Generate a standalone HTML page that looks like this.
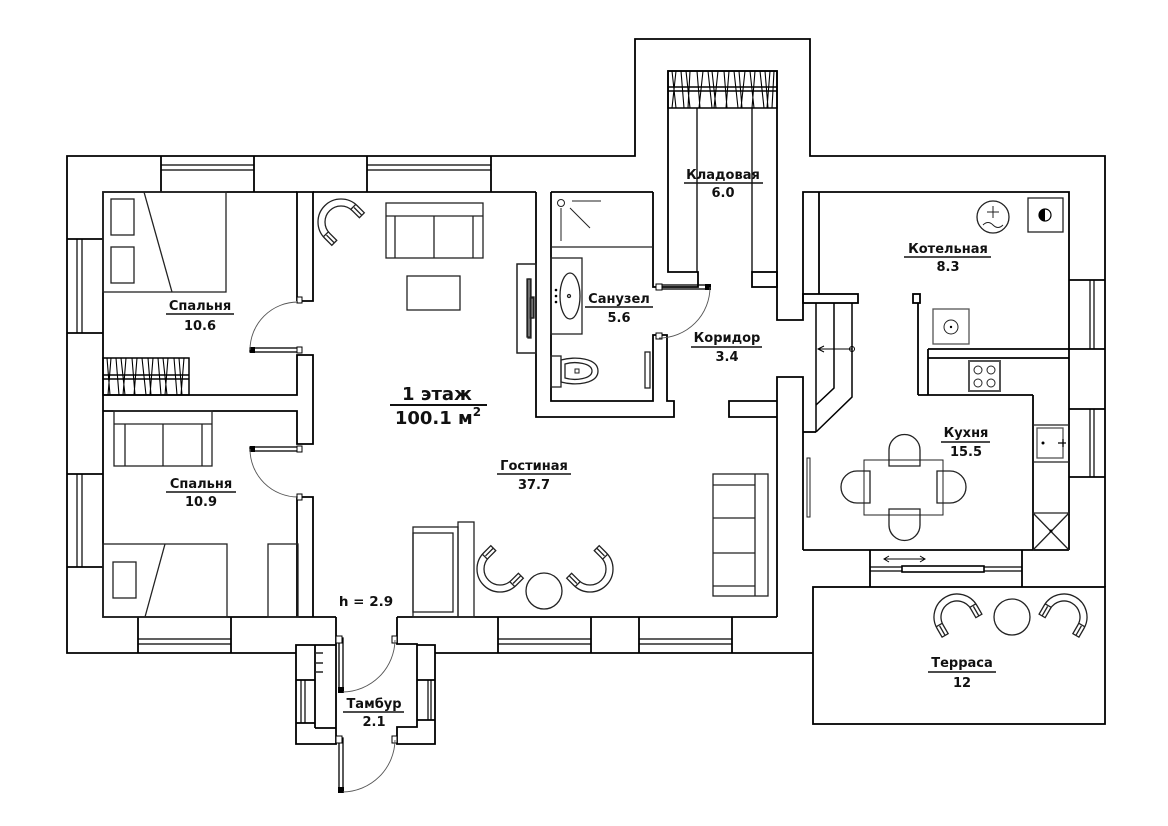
<!DOCTYPE html>
<html><head><meta charset="utf-8"><style>
html,body{margin:0;padding:0;background:#fff;}
svg{display:block;}
text{font-family:"DejaVu Sans","Liberation Sans",sans-serif;font-weight:bold;font-size:13px;fill:#111;text-anchor:middle;}
</style></head><body>
<svg width="1168" height="826" viewBox="0 0 1168 826" xmlns="http://www.w3.org/2000/svg">
<rect width="1168" height="826" fill="#fff"/>
<defs>
<g id="chair">
<path d="M10,-23 L0,-23 A23,23 0 0 0 0,23 L10,23 L10,16 L0,16 A16,16 0 0 1 0,-16 L10,-16 Z"/>
<path d="M-2,-16 L-2,-23 M-2,16 L-2,23 M10,-19.5 L-1,-19.5 M10,19.5 L-1,19.5"/>
</g>
</defs>

<!-- WALLS -->
<g fill="none" stroke="#000" stroke-width="1.8" stroke-linejoin="miter">
<polyline points="296,653 67,653 67,156 635,156 635,39 810,39 810,156 1105,156 1105,587"/>
<line x1="435" y1="653" x2="813" y2="653"/>
<rect x="813" y="587" width="292" height="137"/>
<polyline points="297,192 103,192 103,617 336,617"/>
<polyline points="297,301 297,192 313,192 313,301 297,301"/>
<polyline points="103,395 297,395 297,355 313,355 313,444 297,444 297,411 103,411"/>
<polyline points="297,617 297,497 313,497 313,617"/>
<line x1="313" y1="192" x2="536" y2="192"/>
<polyline points="551,192 551,401 653,401 653,335 667,335 667,401 674,401 674,417 536,417 536,192"/>
<line x1="551" y1="192" x2="653" y2="192"/>
<polyline points="653,192 653,287 698,287 698,272 668,272 668,71 777,71 777,320 803,320 803,192 1069,192 1069,550"/>
<rect x="752" y="272" width="25" height="15"/>
<line x1="819" y1="192" x2="819" y2="294"/>
<rect x="803" y="294" width="55" height="9"/>
<polyline points="777,617 777,377 803,377 803,550"/>
<polyline points="777,401 729,401 729,417 777,417"/>
<line x1="803" y1="432" x2="816" y2="432"/>
<line x1="803" y1="550" x2="1069" y2="550"/>
<line x1="870" y1="550" x2="870" y2="587"/>
<line x1="1022" y1="550" x2="1022" y2="587"/>
<line x1="397" y1="617" x2="777" y2="617"/>
<rect x="913" y="294" width="7" height="9"/>
<line x1="918" y1="303" x2="918" y2="395"/>
<line x1="928" y1="349" x2="928" y2="395"/>
<line x1="928" y1="349" x2="1105" y2="349"/>
<line x1="928" y1="358" x2="1069" y2="358"/>
<line x1="918" y1="395" x2="1033" y2="395"/>
<line x1="1033" y1="395" x2="1033" y2="550"/>
<line x1="1069" y1="280" x2="1105" y2="280"/>
<line x1="1069" y1="409" x2="1105" y2="409"/>
<line x1="1069" y1="477" x2="1105" y2="477"/>
<line x1="161" y1="156" x2="161" y2="192"/><line x1="254" y1="156" x2="254" y2="192"/>
<line x1="367" y1="156" x2="367" y2="192"/><line x1="491" y1="156" x2="491" y2="192"/>
<line x1="67" y1="239" x2="103" y2="239"/><line x1="67" y1="333" x2="103" y2="333"/>
<line x1="67" y1="474" x2="103" y2="474"/><line x1="67" y1="567" x2="103" y2="567"/>
<line x1="138" y1="617" x2="138" y2="653"/><line x1="231" y1="617" x2="231" y2="653"/>
<line x1="498" y1="617" x2="498" y2="653"/><line x1="591" y1="617" x2="591" y2="653"/>
<line x1="639" y1="617" x2="639" y2="653"/><line x1="732" y1="617" x2="732" y2="653"/>
<polyline points="336,617 336,744 296,744 296,645 336,645"/>
<line x1="315" y1="645" x2="315" y2="728"/>
<line x1="296" y1="680" x2="315" y2="680"/>
<line x1="296" y1="723" x2="315" y2="723"/>
<line x1="315" y1="728" x2="336" y2="728"/>
<polyline points="397,617 397,644 417,644 417,727 397,727 397,744 435,744 435,645 417,645"/>
<line x1="417" y1="680" x2="435" y2="680"/>
<line x1="417" y1="720" x2="435" y2="720"/>
</g>

<!-- WINDOW GLASS LINES -->
<g stroke="#000" stroke-width="1.2" fill="none">
<path d="M161,165H254M161,170H254M367,165H491M367,170H491"/>
<path d="M77,239V333M82,239V333M77,474V567M82,474V567"/>
<path d="M138,639H231M138,644H231M498,639H591M498,644H591M639,639H732M639,644H732"/>
<path d="M1090,280V349M1094,280V349M1090,409V477M1094,409V477"/>
<path d="M301,680V723M305,680V723M428,680V720M431,680V720"/>
<path d="M870,567H1022M870,571H1022"/>
<rect x="902" y="566" width="82" height="6" fill="#fff" stroke-width="1.6"/>
<path d="M884,559H925M889,556L884,559L889,562M920,556L925,559L920,562" stroke-width="1"/>
</g>

<!-- STAIRS -->
<g stroke="#000" stroke-width="1.5" fill="none">
<polyline points="816,303 816,432"/>
<polyline points="834,303 834,388 816,405"/>
<polyline points="852,303 852,397 816,432"/>
<path d="M852,349H818M824,346L818,349L824,352" stroke-width="1"/>
<circle cx="852" cy="349" r="2.5" stroke-width="1"/>
</g>

<!-- WARDROBES (hatched) -->
<g stroke="#000" stroke-width="1.5" fill="none">
<rect x="668" y="71" width="109" height="37"/>
<path d="M668,87H777M668,91H777"/>
<path d="M672,71L676,108M676,71L672,108M681,71L684,108M686,71L690,108M690,71L688,108M697,71L700,108M703,71L699,108M708,71L712,108M712,71L716,108M718,71L714,108M724,71L727,108M729,71L726,108M734,71L738,108M739,71L742,108M745,71L741,108M750,71L754,108M755,71L752,108M760,71L764,108M765,71L768,108M770,71L767,108M774,71L772,108" stroke-width="1.1"/>
<rect x="103" y="358" width="86" height="37"/>
<path d="M103,375H189M103,379H189"/>
<path d="M107,358L110,395M111,358L108,395M116,358L119,395M121,358L125,395M126,358L123,395M132,358L135,395M137,358L134,395M142,358L146,395M148,358L151,395M153,358L150,395M158,358L161,395M163,358L167,395M168,358L165,395M174,358L177,395M179,358L182,395M184,358L181,395" stroke-width="1.1"/>
<line x1="697" y1="108" x2="697" y2="272" stroke-width="1.3"/>
<line x1="752" y1="108" x2="752" y2="272" stroke-width="1.3"/>
</g>

<!-- DOORS -->
<g fill="none" stroke="#000" stroke-width="1.3">
<rect x="250" y="348" width="48" height="4"/>
<rect x="250" y="447" width="48" height="4"/>
<rect x="657" y="285" width="53" height="4"/>
<rect x="339" y="638" width="4" height="54"/>
<rect x="339" y="738" width="4" height="54"/>
</g>
<g fill="#fff" stroke="#000" stroke-width="1">
<rect x="297" y="297" width="5" height="6"/><rect x="297" y="347" width="5" height="6"/>
<rect x="297" y="446" width="5" height="6"/><rect x="297" y="494" width="5" height="6"/>
<rect x="656" y="284" width="6" height="6"/><rect x="656" y="333" width="6" height="6"/>
<rect x="336" y="636" width="6" height="7"/><rect x="392" y="636" width="5" height="7"/>
<rect x="336" y="736" width="6" height="7"/><rect x="392" y="736" width="5" height="7"/>
</g>
<g fill="#000"><rect x="250" y="347" width="5" height="6"/><rect x="250" y="446" width="5" height="6"/><rect x="705" y="284" width="6" height="6"/><rect x="338" y="687" width="6" height="6"/><rect x="338" y="787" width="6" height="6"/></g>
<g fill="none" stroke="#555" stroke-width="0.9">
<path d="M250,350 A48,48 0 0 1 298,302"/>
<path d="M250,449 A48,48 0 0 0 298,497"/>
<path d="M710,287 A51,51 0 0 1 659,338"/>
<path d="M343,692 A53,53 0 0 0 395,640"/>
<path d="M343,792 A53,53 0 0 0 395,740"/>
</g>

<!-- FURNITURE -->
<g fill="none" stroke="#222" stroke-width="1.3">
<rect x="103" y="192" width="123" height="100"/>
<rect x="111" y="199" width="23" height="36"/><rect x="111" y="247" width="23" height="36"/>
<line x1="144" y1="192" x2="172" y2="292"/>
<rect x="114" y="411" width="98" height="55"/>
<path d="M114,424H212M125,424V466M163,424V466M202,424V466"/>
<rect x="103" y="544" width="124" height="73"/>
<rect x="113" y="562" width="23" height="36"/>
<line x1="165" y1="544" x2="145" y2="617"/>
<rect x="268" y="544" width="30" height="73"/>
<rect x="386" y="203" width="97" height="55"/>
<path d="M386,216H483M395,216V258M473,216V258M434,216V258"/>
<rect x="407" y="276" width="53" height="34"/>
<rect x="517" y="264" width="19" height="89"/>
<rect x="528" y="279" width="3" height="59"/><rect x="531" y="297" width="3" height="21"/>
<rect x="413" y="527" width="45" height="90"/>
<rect x="413" y="533" width="40" height="79"/>
<rect x="458" y="522" width="16" height="95"/>
<rect x="713" y="474" width="55" height="122"/>
<path d="M755,474V596M713,485H755M713,518H755M713,553H755M713,586H755"/>
<circle cx="544" cy="591" r="18"/>
<use href="#chair" transform="translate(341,222) rotate(45)"/>
<use href="#chair" transform="translate(500,569) rotate(-45)"/>
<use href="#chair" transform="translate(590,569) rotate(-135)"/>
<circle cx="1012" cy="617" r="18"/>
<use href="#chair" transform="translate(957,617) rotate(60)"/>
<use href="#chair" transform="translate(1064,617) rotate(120)"/>
<path d="M551,247H653"/>
<circle cx="561" cy="203" r="3.5" stroke-width="1"/>
<path d="M572,201H601M561,208V241M570,208L590,228" stroke-width="1"/>
<rect x="551" y="258" width="31" height="76"/>
<ellipse cx="570" cy="296" rx="10" ry="23"/>
<circle cx="569" cy="296" r="1.5"/>
<rect x="551" y="356" width="10" height="31"/>
<path d="M561,360 C575,356 598,358 598,371 C598,384 575,386 561,382 Z"/>
<path d="M565,364 C575,361 592,363 592,371 C592,379 575,381 565,378 Z"/>
<rect x="575" y="369" width="4" height="4" stroke-width="1"/>
<rect x="645" y="352" width="5" height="36"/>
<rect x="517" y="264" width="19" height="89"/>
<rect x="527" y="279" width="3" height="58"/><rect x="530" y="298" width="3" height="20"/>
<circle cx="993" cy="217" r="16"/>
<path d="M987,212H999M993,206V218M983,225q5,-5 10,0q5,5 10,0" stroke-width="1"/>
<rect x="1028" y="198" width="35" height="34"/>
<rect x="933" y="309" width="36" height="35" stroke="#555"/>
<circle cx="951" cy="327" r="7" stroke-width="1"/>
<rect x="969" y="361" width="31" height="30" stroke="#555" stroke-width="2"/>
<circle cx="978" cy="370" r="4" stroke-width="1"/><circle cx="991" cy="370" r="4" stroke-width="1"/>
<circle cx="978" cy="383" r="4" stroke-width="1"/><circle cx="991" cy="383" r="4" stroke-width="1"/>
<path d="M1033,425H1069M1033,462H1069"/>
<rect x="1037" y="428" width="26" height="30" stroke="#555"/>
<path d="M1033,513H1069M1033,513L1069,550M1069,513L1033,550"/>
<rect x="864" y="460" width="79" height="55" stroke-width="1"/>
<path d="M889,466V450A15.5,15.5 0 0 1 920,450V466Z"/>
<path d="M889,509V525A15.5,15.5 0 0 0 920,525V509Z"/>
<path d="M870,471H857A16,16 0 0 0 857,503H870Z"/>
<path d="M937,471H950A16,16 0 0 1 950,503H937Z"/>
<rect x="807" y="458" width="3" height="59" stroke-width="1"/>
<path d="M315,653H323M315,663H323M315,672H323" stroke-width="1.5"/>
</g>
<g fill="#000">
<circle cx="556" cy="290" r="1.3"/><circle cx="556" cy="296" r="1.3"/><circle cx="556" cy="302" r="1.3"/>
<circle cx="951" cy="327" r="1.2"/>
<path d="M1045,209 A6,6 0 0 0 1045,221 Z"/>
<circle cx="1043" cy="443" r="1.5"/>
<circle cx="1051" cy="531" r="1.5"/>
</g>
<circle cx="1045" cy="215" r="6" fill="none" stroke="#000" stroke-width="1.2"/>
<path d="M1058,443H1066M1063,439V447" stroke="#000" stroke-width="1.2"/>

<!-- LABELS -->
<g stroke="#111" stroke-width="1.6">
<line x1="166" y1="314" x2="234" y2="314"/>
<line x1="166" y1="492" x2="236" y2="492"/>
<line x1="585" y1="307" x2="653" y2="307"/>
<line x1="684" y1="183" x2="763" y2="183"/>
<line x1="691" y1="347" x2="762" y2="347"/>
<line x1="904" y1="257" x2="991" y2="257"/>
<line x1="941" y1="442" x2="990" y2="442"/>
<line x1="497" y1="474" x2="571" y2="474"/>
<line x1="928" y1="672" x2="996" y2="672"/>
<line x1="343" y1="712" x2="404" y2="712"/>
<line x1="390" y1="405" x2="487" y2="405" stroke-width="2"/>
</g>
<text x="200" y="310">Спальня</text><text x="200" y="330">10.6</text>
<text x="201" y="488">Спальня</text><text x="201" y="506">10.9</text>
<text x="619" y="303">Санузел</text><text x="619" y="322">5.6</text>
<text x="723" y="179">Кладовая</text><text x="723" y="197">6.0</text>
<text x="727" y="342">Коридор</text><text x="727" y="361">3.4</text>
<text x="948" y="253">Котельная</text><text x="948" y="271">8.3</text>
<text x="966" y="437">Кухня</text><text x="966" y="456">15.5</text>
<text x="534" y="470">Гостиная</text><text x="534" y="489">37.7</text>
<text x="962" y="667">Терраса</text><text x="962" y="687">12</text>
<text x="374" y="708">Тамбур</text><text x="374" y="726">2.1</text>
<text x="366" y="606" style="font-size:13.5px">h = 2.9</text>
<text x="437" y="400" style="font-size:18px">1 этаж</text>
<text x="438" y="424" style="font-size:18px">100.1 м<tspan dy="-8" style="font-size:12px">2</tspan></text>
</svg>
</body></html>
